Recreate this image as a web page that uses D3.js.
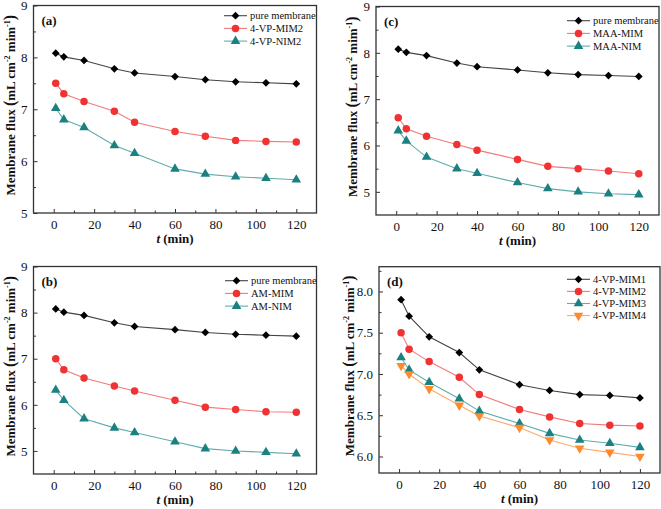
<!DOCTYPE html>
<html><head><meta charset="utf-8">
<script src="https://cdn.jsdelivr.net/npm/d3@7"></script>
<style>body{margin:0;background:#fff}svg{display:block}
svg text{font-family:"Liberation Serif","Times New Roman",Times,serif;}
</style>
</head><body>
<svg id="chart" width="661" height="509"></svg>
<script>
const times = [1, 5, 15, 30, 40, 60, 75, 90, 105, 120];
const pureMembrane = [8.08, 8.01, 7.94, 7.78, 7.70, 7.63, 7.57, 7.53, 7.51, 7.49];
const vpMim2 = [7.50, 7.30, 7.15, 6.96, 6.75, 6.57, 6.48, 6.40, 6.38, 6.37];
const vpNim2 = [7.02, 6.80, 6.65, 6.30, 6.15, 5.85, 5.75, 5.70, 5.67, 5.64];
const amMim = [7.00, 6.76, 6.58, 6.41, 6.30, 6.10, 5.95, 5.90, 5.85, 5.84];
const amNim = [6.32, 6.10, 5.70, 5.50, 5.40, 5.20, 5.05, 5.00, 4.97, 4.94];
const maaMim = [6.60, 6.36, 6.20, 6.02, 5.90, 5.70, 5.55, 5.50, 5.45, 5.39];
const maaNim = [6.32, 6.10, 5.75, 5.50, 5.40, 5.20, 5.07, 5.00, 4.96, 4.94];
const vpMim1 = [7.90, 7.70, 7.45, 7.26, 7.05, 6.87, 6.80, 6.75, 6.74, 6.71];
const vpMim3 = [7.20, 7.05, 6.90, 6.70, 6.55, 6.40, 6.28, 6.20, 6.16, 6.11];
const vpMim4 = [7.10, 7.00, 6.82, 6.62, 6.49, 6.35, 6.20, 6.10, 6.05, 6.00];
const xTicks = [0, 20, 40, 60, 80, 100, 120];
const xMinor = [10, 30, 50, 70, 90, 110];
const yTicksInt = [5, 6, 7, 8, 9];
const yMinorInt = [5.5, 6.5, 7.5, 8.5];
const yTicksD = [6.0, 6.5, 7.0, 7.5, 8.0];
const yMinorD = [6.25, 6.75, 7.25, 7.75, 8.25];

const ST = {
  pure: {sym: "diamond", fill: "#000", line: "#444"},
  red: {sym: "circle", fill: "#f03232", line: "#f27a7a"},
  teal: {sym: "triangle", fill: "#1b8080", line: "#62acac"},
  orange: {sym: "down", fill: "#ff8a2e", line: "#ffa868"}
};

const panels = [
  {label: "(a)", L: 33.5, R: 316.5, T: 5.5, B: 213, y: [5, 9], yt: yTicksInt, ym: yMinorInt, fmt: d3.format("d"),
   series: [[pureMembrane, ST.pure, "pure membrane"], [vpMim2, ST.red, "4-VP-MIM2"], [vpNim2, ST.teal, "4-VP-NIM2"]],
   leg: {x: 224, y: 15.7, dy: 12.7}, titleX: 10},
  {label: "(c)", L: 376, R: 659, T: 6.5, B: 215, y: [4.5, 9], yt: yTicksInt, ym: yMinorInt, fmt: d3.format("d"),
   series: [[pureMembrane, ST.pure, "pure membrane"], [maaMim, ST.red, "MAA-MIM"], [maaNim, ST.teal, "MAA-NIM"]],
   leg: {x: 567, y: 20.7, dy: 12.7}, titleX: 352},
  {label: "(b)", L: 33.5, R: 316.5, T: 266.5, B: 474, y: [4.5, 9], yt: yTicksInt, ym: yMinorInt, fmt: d3.format("d"),
   series: [[pureMembrane, ST.pure, "pure membrane"], [amMim, ST.red, "AM-MIM"], [amNim, ST.teal, "AM-NIM"]],
   leg: {x: 225, y: 280.7, dy: 12.7}, titleX: 10},
  {label: "(d)", L: 379, R: 660, T: 266.7, B: 473, y: [5.8, 8.3], yt: yTicksD, ym: yMinorD, fmt: d3.format(".1f"),
   series: [[vpMim1, ST.pure, "4-VP-MIM1"], [vpMim2, ST.red, "4-VP-MIM2"], [vpMim3, ST.teal, "4-VP-MIM3"], [vpMim4, ST.orange, "4-VP-MIM4"]],
   leg: {x: 567, y: 279.3, dy: 12.1}, titleX: 349}
];

const svg = d3.select("#chart");

function marker(g, x, y, st) {
  let sym, rot = 0, size;
  if (st.sym === "diamond") { sym = d3.symbolSquare; size = 30; rot = 45; }
  else if (st.sym === "circle") { sym = d3.symbolCircle; size = 44; }
  else if (st.sym === "triangle") { sym = d3.symbolTriangle; size = 40; }
  else { sym = d3.symbolTriangle; size = 40; rot = 180; }
  g.append("path").attr("d", d3.symbol(sym, size)())
    .attr("transform", `translate(${x},${y}) rotate(${rot})`)
    .attr("fill", st.fill).attr("stroke", "none");
}

panels.forEach(p => {
  const x = d3.scaleLinear().domain([-10, 130]).range([p.L, p.R]);
  const y = d3.scaleLinear().domain(p.y).range([p.B, p.T]);
  const g = svg.append("g");

  const xa = g.append("g").attr("transform", `translate(0,${p.B})`)
    .call(d3.axisBottom(x).tickValues(xTicks).tickSizeInner(-4).tickSizeOuter(0).tickPadding(7).tickFormat(d3.format("d")));
  xa.select(".domain").remove();
  xa.selectAll("text").attr("font-size", 13).attr("fill", "#111");
  const xm = g.append("g").attr("transform", `translate(0,${p.B})`)
    .call(d3.axisBottom(x).tickValues(xMinor).tickSizeInner(-2.5).tickSizeOuter(0).tickFormat(""));
  xm.select(".domain").remove();

  const ya = g.append("g").attr("transform", `translate(${p.L},0)`)
    .call(d3.axisLeft(y).tickValues(p.yt).tickSizeInner(-4).tickSizeOuter(0).tickPadding(6).tickFormat(p.fmt));
  ya.select(".domain").remove();
  ya.selectAll("text").attr("font-size", 13).attr("fill", "#111");
  const ymn = g.append("g").attr("transform", `translate(${p.L},0)`)
    .call(d3.axisLeft(y).tickValues(p.ym).tickSizeInner(-2.5).tickSizeOuter(0).tickFormat(""));
  ymn.select(".domain").remove();
  g.selectAll(".tick line").attr("stroke", "#333").attr("stroke-width", 1);
  g.selectAll(".tick").each(function(){ d3.select(this.parentNode).attr("font-family", null); });

  g.append("rect").attr("x", p.L).attr("y", p.T).attr("width", p.R - p.L).attr("height", p.B - p.T)
    .attr("fill", "none").attr("stroke", "#333").attr("stroke-width", 1.3);

  const line = d3.line().x((d, i) => x(times[i])).y(d => y(d));
  p.series.forEach(([vals, st]) => {
    g.append("path").datum(vals).attr("d", line).attr("fill", "none")
      .attr("stroke", st.line).attr("stroke-width", 1.1);
  });
  p.series.forEach(([vals, st]) => {
    vals.forEach((v, i) => marker(g, x(times[i]), y(v), st));
  });

  p.series.forEach(([vals, st, name], i) => {
    const ly = p.leg.y + i * p.leg.dy;
    g.append("line").attr("x1", p.leg.x).attr("x2", p.leg.x + 23).attr("y1", ly).attr("y2", ly)
      .attr("stroke", st.line).attr("stroke-width", 1.1);
    marker(g, p.leg.x + 11.5, ly, st);
    g.append("text").attr("x", p.leg.x + 26).attr("y", ly + 3.5)
      .attr("font-size", 10.5).attr("fill", "#111").text(name);
  });

  g.append("text").attr("x", p.L + 8).attr("y", p.T + 19)
    .attr("font-weight", "bold").attr("font-size", 13).attr("fill", "#111").text(p.label);

  const xt = g.append("text").attr("x", (p.L + p.R) / 2).attr("y", p.B + 30).attr("text-anchor", "middle")
    .attr("font-weight", "bold").attr("font-size", 13).attr("fill", "#111");
  xt.append("tspan").attr("font-style", "italic").text("t");
  xt.append("tspan").text(" (min)");

  const cy = (p.T + p.B) / 2 - 4;
  const yt = g.append("text").attr("transform", `translate(${p.titleX + 4.5},${cy}) rotate(-90)`)
    .attr("text-anchor", "middle").attr("font-weight", "bold")
    .attr("font-size", 13).attr("fill", "#111");
  yt.append("tspan").text("Membrane flux ");
  yt.append("tspan").attr("font-size", 16).text("(");
  yt.append("tspan").text("mL cm");
  yt.append("tspan").attr("font-size", 8).attr("dy", -5).text("-2");
  yt.append("tspan").attr("dy", 5).text(" mim");
  yt.append("tspan").attr("font-size", 8).attr("dy", -5).text("-1");
  yt.append("tspan").attr("dy", 5).attr("font-size", 16).text(")");
});
</script>
</body></html>
